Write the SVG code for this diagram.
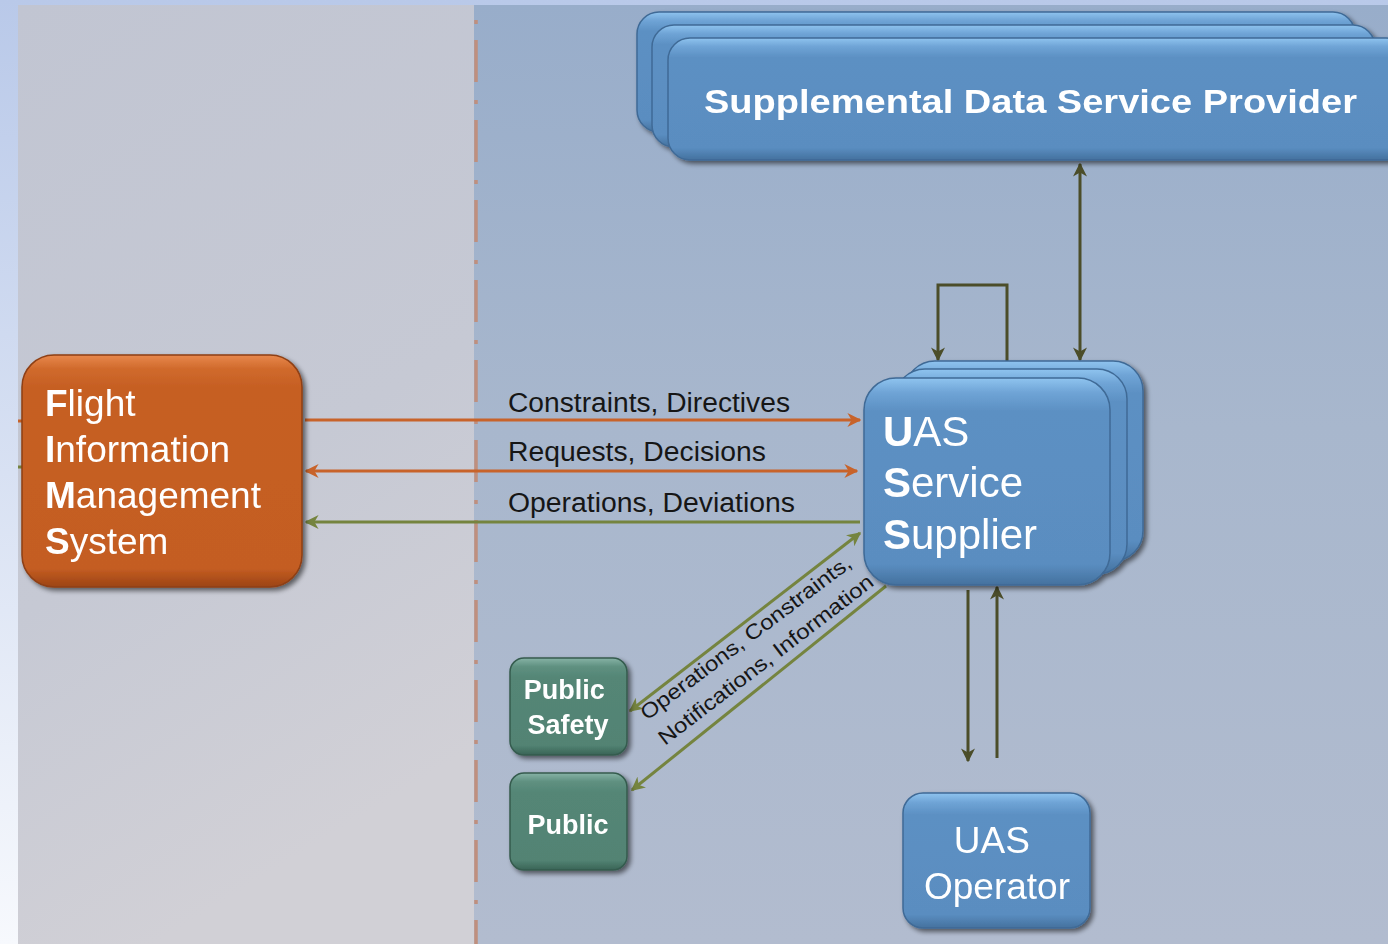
<svg xmlns="http://www.w3.org/2000/svg" width="1388" height="944" viewBox="0 0 1388 944">
  <defs>
    <linearGradient id="outerBg" x1="0" y1="0" x2="0" y2="1">
      <stop offset="0" stop-color="#b9c9e9"/>
      <stop offset="1" stop-color="#f7f9fd"/>
    </linearGradient>
    <linearGradient id="leftBg" x1="0" y1="0" x2="0.3" y2="1">
      <stop offset="0" stop-color="#c1c5d2"/>
      <stop offset="0.6" stop-color="#c6c9d4"/>
      <stop offset="1" stop-color="#d1d0d6"/>
    </linearGradient>
    <linearGradient id="rightBg" x1="0" y1="0" x2="0" y2="1">
      <stop offset="0" stop-color="#98adca"/>
      <stop offset="0.45" stop-color="#a8b7cd"/>
      <stop offset="1" stop-color="#b2bccf"/>
    </linearGradient>
    <linearGradient id="blueFill" x1="0" y1="0" x2="0" y2="1">
      <stop offset="0" stop-color="#8fc4ef"/>
      <stop offset="0.07" stop-color="#6fa4d6"/>
      <stop offset="0.16" stop-color="#5c90c3"/>
      <stop offset="0.9" stop-color="#5a8dc0"/>
      <stop offset="1" stop-color="#44719e"/>
    </linearGradient>
    <linearGradient id="orangeFill" x1="0" y1="0" x2="0" y2="1">
      <stop offset="0" stop-color="#e8884c"/>
      <stop offset="0.06" stop-color="#d06a2c"/>
      <stop offset="0.14" stop-color="#c65f23"/>
      <stop offset="0.92" stop-color="#c45d22"/>
      <stop offset="1" stop-color="#9c4414"/>
    </linearGradient>
    <linearGradient id="greenFill" x1="0" y1="0" x2="0" y2="1">
      <stop offset="0" stop-color="#86b3a6"/>
      <stop offset="0.09" stop-color="#5f9080"/>
      <stop offset="0.2" stop-color="#548676"/>
      <stop offset="0.9" stop-color="#528373"/>
      <stop offset="1" stop-color="#3a6456"/>
    </linearGradient>
    <filter id="shadow" x="-10%" y="-10%" width="125%" height="130%">
      <feGaussianBlur in="SourceAlpha" stdDeviation="2.5"/>
      <feOffset dx="3" dy="3" result="b"/>
      <feComponentTransfer><feFuncA type="linear" slope="0.55"/></feComponentTransfer>
      <feMerge><feMergeNode/><feMergeNode in="SourceGraphic"/></feMerge>
    </filter>
    <marker id="arrOr" viewBox="0 0 10 10" refX="9" refY="5" markerWidth="14" markerHeight="14" markerUnits="userSpaceOnUse" orient="auto-start-reverse">
      <path d="M0,0 L10,5 L0,10 L3,5 z" fill="#c8632a"/>
    </marker>
    <marker id="arrGr" viewBox="0 0 10 10" refX="9" refY="5" markerWidth="14" markerHeight="14" markerUnits="userSpaceOnUse" orient="auto-start-reverse">
      <path d="M0,0 L10,5 L0,10 L3,5 z" fill="#75843f"/>
    </marker>
    <marker id="arrDk" viewBox="0 0 10 10" refX="9" refY="5" markerWidth="14" markerHeight="14" markerUnits="userSpaceOnUse" orient="auto-start-reverse">
      <path d="M0,0 L10,5 L0,10 L3,5 z" fill="#4b4d29"/>
    </marker>
  </defs>
  <style>
    .box-blue { fill: url(#blueFill); stroke: #3f6a96; stroke-width: 1.5; }
    .box-orange { fill: url(#orangeFill); stroke: #8e3f14; stroke-width: 1.5; }
    .box-green { fill: url(#greenFill); stroke: #355b4e; stroke-width: 1.5; }
    .lbl { font-family: "Liberation Sans", Arial, sans-serif; fill: #ffffff; }
    .lbl-bold { font-family: "Liberation Sans", Arial, sans-serif; font-weight: bold; fill: #ffffff; }
    .edge-lbl { font-family: "Liberation Sans", Arial, sans-serif; fill: #161616; }
    .b { font-weight: bold; }
    .c-or { stroke: #c8632a; stroke-width: 3; fill: none; }
    .c-gr { stroke: #75843f; stroke-width: 3; fill: none; }
    .c-dk { stroke: #4b4d29; stroke-width: 3; fill: none; }
  </style>

  <!-- backdrop -->
  <rect x="0" y="0" width="1388" height="944" fill="url(#outerBg)"/>
  <rect x="18" y="5" width="458" height="939" fill="url(#leftBg)"/>
  <rect x="474" y="5" width="914" height="939" fill="url(#rightBg)"/>
  <line x1="476" y1="5" x2="476" y2="944" stroke="#bf8f7e" stroke-width="3.5" stroke-dasharray="42 18 4 16" stroke-dashoffset="45"/>

  <!-- connectors -->
  <g id="connectors">
    <line class="c-or" x1="18" y1="421" x2="24" y2="421"/>
    <line class="c-gr" x1="18" y1="467" x2="24" y2="467"/>
    <line class="c-or" x1="305" y1="420" x2="860" y2="420" marker-end="url(#arrOr)"/>
    <line class="c-or" x1="306" y1="471" x2="857" y2="471" marker-start="url(#arrOr)" marker-end="url(#arrOr)"/>
    <line class="c-gr" x1="860" y1="522" x2="306" y2="522" marker-end="url(#arrGr)"/>
    <line class="c-gr" x1="630" y1="711" x2="860" y2="533" marker-start="url(#arrGr)" marker-end="url(#arrGr)"/>
    <line class="c-gr" x1="886" y1="586" x2="632" y2="790" marker-end="url(#arrGr)"/>
    <polyline class="c-dk" points="1007,361 1007,285 938,285 938,360" marker-end="url(#arrDk)"/>
    <line class="c-dk" x1="1080" y1="164" x2="1080" y2="360" marker-start="url(#arrDk)" marker-end="url(#arrDk)"/>
    <line class="c-dk" x1="968" y1="590" x2="968" y2="761" marker-end="url(#arrDk)"/>
    <line class="c-dk" x1="997" y1="758" x2="997" y2="587" marker-end="url(#arrDk)"/>

    <text class="edge-lbl" x="508" y="412" font-size="27" textLength="282" lengthAdjust="spacingAndGlyphs">Constraints, Directives</text>
    <text class="edge-lbl" x="508" y="461" font-size="27" textLength="258" lengthAdjust="spacingAndGlyphs">Requests, Decisions</text>
    <text class="edge-lbl" x="508" y="512" font-size="27" textLength="287" lengthAdjust="spacingAndGlyphs">Operations, Deviations</text>
    <text class="edge-lbl" transform="translate(647,721) rotate(-37)" font-size="21" textLength="258" lengthAdjust="spacingAndGlyphs">Operations, Constraints,</text>
    <text class="edge-lbl" transform="translate(665,746) rotate(-37.5)" font-size="21" textLength="265" lengthAdjust="spacingAndGlyphs">Notifications, Information</text>
  </g>

  <!-- Supplemental Data Service Provider (stacked) -->
  <g id="sdsp" filter="url(#shadow)">
    <rect class="box-blue" x="637" y="12" width="718" height="120" rx="22"/>
    <rect class="box-blue" x="652" y="25" width="723" height="122" rx="22"/>
    <rect class="box-blue" x="668" y="38" width="740" height="122" rx="22"/>
    <text class="lbl-bold" x="704" y="113" font-size="34" textLength="653" lengthAdjust="spacingAndGlyphs">Supplemental Data Service Provider</text>
  </g>

  <!-- Flight Information Management System -->
  <g id="fims" filter="url(#shadow)">
    <rect class="box-orange" x="22" y="355" width="280" height="232" rx="32"/>
    <text class="lbl" font-size="37">
      <tspan x="45" y="416"><tspan class="b">F</tspan>light</tspan>
      <tspan x="45" y="462"><tspan class="b">I</tspan>nformation</tspan>
      <tspan x="45" y="508"><tspan class="b">M</tspan>anagement</tspan>
      <tspan x="45" y="554"><tspan class="b">S</tspan>ystem</tspan>
    </text>
  </g>

  <!-- UAS Service Supplier (stacked) -->
  <g id="uss" filter="url(#shadow)">
    <rect class="box-blue" x="905" y="361" width="238" height="200" rx="30"/>
    <rect class="box-blue" x="895" y="369" width="232" height="205" rx="30"/>
    <rect class="box-blue" x="864" y="378" width="246" height="207" rx="32"/>
    <text class="lbl" font-size="42">
      <tspan x="883" y="446"><tspan class="b">U</tspan>AS</tspan>
      <tspan x="883" y="497"><tspan class="b">S</tspan>ervice</tspan>
      <tspan x="883" y="549"><tspan class="b">S</tspan>upplier</tspan>
    </text>
  </g>

  <!-- Public Safety -->
  <g id="public-safety" filter="url(#shadow)">
    <rect class="box-green" x="510" y="658" width="117" height="97" rx="14"/>
    <text class="lbl-bold" font-size="27" text-anchor="middle">
      <tspan x="568" y="699">Public</tspan>
      <tspan x="568" y="734">Safety</tspan>
    </text>
  </g>

  <!-- Public -->
  <g id="public" filter="url(#shadow)">
    <rect class="box-green" x="510" y="773" width="117" height="97" rx="14"/>
    <text class="lbl-bold" x="568" y="834" font-size="27" text-anchor="middle">Public</text>
  </g>

  <!-- UAS Operator -->
  <g id="uas-operator" filter="url(#shadow)">
    <rect class="box-blue" x="903" y="793" width="187" height="135" rx="20"/>
    <text class="lbl" font-size="37" text-anchor="middle">
      <tspan x="997" y="853">UAS</tspan>
      <tspan x="997" y="899">Operator</tspan>
    </text>
  </g>
</svg>
